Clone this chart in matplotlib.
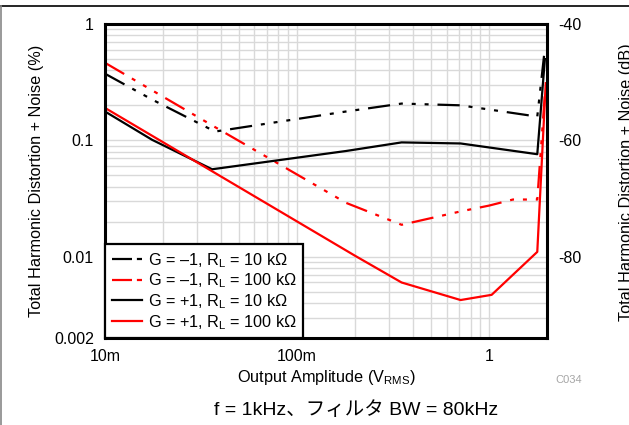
import matplotlib
matplotlib.use("Agg")
import matplotlib.pyplot as plt
from matplotlib.lines import Line2D
from matplotlib.ticker import LogLocator, FixedLocator, FixedFormatter, NullFormatter
import numpy as np

plt.rcParams['font.family'] = ['Liberation Sans', 'Noto Sans CJK JP', 'DejaVu Sans']
plt.rcParams['mathtext.fontset'] = 'custom'
plt.rcParams['mathtext.rm'] = 'Liberation Sans'
plt.rcParams['mathtext.it'] = 'Liberation Sans:italic'

# Output amplitude (V RMS) and THD+N (%) for each configuration
amp_inv_10k = [0.01, 0.0176, 0.0374, 0.18, 0.35, 0.71, 1.78, 1.95]
thd_inv_10k = [0.374, 0.224, 0.119, 0.177, 0.207, 0.200, 0.160, 0.62]

amp_inv_100k = [0.01, 0.0374, 0.18, 0.35, 0.71, 1.0, 1.33, 1.78, 1.95]
thd_inv_100k = [0.464, 0.13, 0.029, 0.0188, 0.0245, 0.0275, 0.031, 0.031, 0.25]

amp_non_10k = [0.01, 0.0176, 0.0361, 0.18, 0.35, 0.71, 1.78, 1.95]
thd_non_10k = [0.177, 0.101, 0.0564, 0.081, 0.096, 0.094, 0.076, 0.50]

amp_non_100k = [0.01, 0.2, 0.35, 0.71, 1.03, 1.78, 1.97]
thd_non_100k = [0.19, 0.0102, 0.0060, 0.00424, 0.0047, 0.011, 0.31]

labels = [
    'G = \u20131, R$_\\mathrm{L}$ = 10 k\u03a9',
    'G = \u20131, R$_\\mathrm{L}$ = 100 k\u03a9',
    'G = +1, R$_\\mathrm{L}$ = 10 k\u03a9',
    'G = +1, R$_\\mathrm{L}$ = 100 k\u03a9',
]

x_ticks = [0.01, 0.1, 1]
x_ticklabels = ['10m', '100m', '1']
y_ticks = [0.002, 0.01, 0.1, 1]
y_ticklabels = ['0.002', '0.01', '0.1', '1']
db_ticks = [-40, -60, -80]

W, H = 629, 425
fig = plt.figure(figsize=(W / 100, H / 100), dpi=100)
ax = fig.add_axes([105 / W, 1 - 338 / H, (547 - 105) / W, (338 - 24) / H])

lw = 1.6
dashdotdot = (0, (10.0, 4.0, 1.8, 4.0, 1.8, 4.0, 1.8, 4.0))
ax.plot(amp_inv_10k, thd_inv_10k, color='black', lw=lw, ls=dashdotdot, zorder=3)
ax.plot(amp_inv_100k, thd_inv_100k, color='#ff0000', lw=lw, ls=dashdotdot, zorder=3)
ax.plot(amp_non_10k, thd_non_10k, color='black', lw=lw, zorder=3)
ax.plot(amp_non_100k, thd_non_100k, color='#ff0000', lw=lw, zorder=3)

ax.set_xscale('log')
ax.set_yscale('log')
ax.set_xlim(0.01, 2.0)
ax.set_ylim(0.002, 1)

ax.xaxis.set_major_locator(FixedLocator(x_ticks))
ax.xaxis.set_major_formatter(FixedFormatter(x_ticklabels))
ax.xaxis.set_minor_locator(LogLocator(base=10, subs=np.arange(2, 10)))
ax.xaxis.set_minor_formatter(NullFormatter())
ax.yaxis.set_major_locator(FixedLocator(y_ticks))
ax.yaxis.set_major_formatter(FixedFormatter(y_ticklabels))
ax.yaxis.set_minor_locator(LogLocator(base=10, subs=np.arange(2, 10)))
ax.yaxis.set_minor_formatter(NullFormatter())

ax.grid(True, which='both', color='#d9d9d9', lw=1.0, zorder=0)
ax.set_axisbelow(True)
ax.tick_params(which='both', length=0, labelsize=11.5, colors='black', pad=8)
for s in ax.spines.values():
    s.set_linewidth(2.2)
    s.set_color('black')
    s.set_zorder(5)

ax.set_xlabel('Output Amplitude (V$_\\mathrm{RMS}$)', fontsize=11.7, labelpad=3)
ax.set_ylabel('Total Harmonic Distortion + Noise (%)', fontsize=11.7, labelpad=7)

# dB scale on the right: 20*log10(% / 100)
ax2 = ax.twinx()
ax2.set_ylim(20 * np.log10(0.002 / 100), 20 * np.log10(1 / 100))
ax2.set_yticks(db_ticks)
ax2.set_yticklabels([str(t) for t in db_ticks])
ax2.tick_params(length=0, labelsize=11.5, pad=8)
for s in ax2.spines.values():
    s.set_visible(False)

fig.text(626 / W, 1 - 182 / H, 'Total Harmonic Distortion + Noise (dB)',
         rotation=90, ha='center', va='center', fontsize=11.7)

handle_dash = (0, (9.0, 2.2, 2.4, 6))
handles = [
    Line2D([], [], color='black', lw=lw, ls=handle_dash),
    Line2D([], [], color='#ff0000', lw=lw, ls=handle_dash),
    Line2D([], [], color='black', lw=lw),
    Line2D([], [], color='#ff0000', lw=lw),
]
leg = ax.legend(handles, labels, loc='lower left', borderaxespad=0,
                fontsize=11.7, frameon=True, fancybox=False, framealpha=1,
                edgecolor='black', handlelength=1.85, handletextpad=0.38,
                labelspacing=0.12, borderpad=0.4)
leg.get_frame().set_linewidth(1.6)
leg.set_zorder(6)

fig.text(555 / W, 1 - 380 / H, 'C034', color='#a6a6a6', fontsize=8,
         ha='left', va='center')
fig.text(356 / W, 1 - 410 / H, 'f = 1kHz\u3001フィルタ BW = 80kHz',
         ha='center', va='center', fontsize=14)

# outer frame
fig.add_artist(Line2D([0, 1], [1 - 6 / H, 1 - 6 / H], transform=fig.transFigure,
                      color='black', lw=1.2))
fig.add_artist(Line2D([1 / W, 1 / W], [0, 1 - 6 / H], transform=fig.transFigure,
                      color='#888888', lw=1.2))

fig.savefig('out.png', dpi=100)
